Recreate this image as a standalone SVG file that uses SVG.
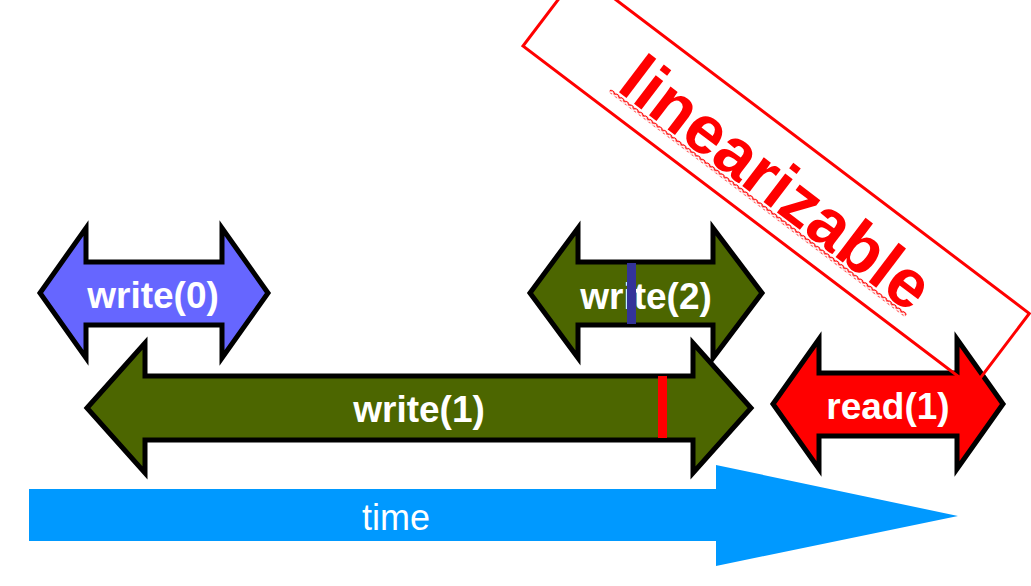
<svg xmlns="http://www.w3.org/2000/svg" width="1031" height="586" viewBox="0 0 1031 586">
<style>
.arrow{stroke:#000;stroke-width:5;stroke-linejoin:miter;stroke-miterlimit:10}
.lbl{font-family:"Liberation Sans",Arial,sans-serif;font-size:37px;font-weight:bold;fill:#fff;text-anchor:middle}
.olive{fill:#4c6600}
</style>
<defs>
<pattern id="squig" patternUnits="userSpaceOnUse" width="6" height="4">
<path d="M0,3.2 L3,0.8 L6,3.2" fill="none" stroke="#ff0000" stroke-width="1.3"/>
</pattern>
</defs>
<rect width="1031" height="586" fill="#fff"/>
<g id="time">
<polygon points="29,489 716,489 716,465 958,516 716,566 716,541 29,541" fill="#0099ff"/>
<text x="396" y="530" style="font-family:'Liberation Sans',Arial,sans-serif;font-size:36px;fill:#fff;text-anchor:middle">time</text>
</g>
<g id="write0">
<polygon class="arrow" fill="#6666ff" points="40,293 86,228 86,262 222,262 222,228 268,293 222,358 222,325 86,325 86,358"/>
<text class="lbl" x="153" y="308">write(0)</text>
</g>
<g id="write2">
<polygon class="arrow olive" points="530,293 578,228 578,262 713,262 713,228 762,293 713,358 713,325 578,325 578,358"/>
<text class="lbl" x="646" y="309">write(2)</text>
<rect x="627" y="263" width="9" height="61" fill="#333399"/>
</g>
<g id="write1">
<polygon class="arrow olive" points="87,408 145,343 145,376 693,376 693,343 751,408 693,473 693,440 145,440 145,473"/>
<text class="lbl" x="419" y="422">write(1)</text>
<rect x="658" y="376" width="9" height="62" fill="#ff0000"/>
</g>
<g id="read1">
<polygon class="arrow" fill="#ff0000" points="773,404 819,339 819,373 957,373 957,339 1003,404 957,469 957,436 819,436 819,469"/>
<text class="lbl" x="888" y="419">read(1)</text>
</g>
<g id="linearizable" transform="translate(523,46) rotate(37.2)">
<rect x="0" y="-93" width="565" height="93" fill="none" stroke="#ff0000" stroke-width="3"/>
<text x="285" y="-21" style="font-family:'Liberation Sans',Arial,sans-serif;font-size:68px;font-weight:bold;fill:#ff0000;text-anchor:middle">linearizable</text>
<rect x="96" y="-19" width="372" height="4" fill="url(#squig)"/>
</g>
</svg>
